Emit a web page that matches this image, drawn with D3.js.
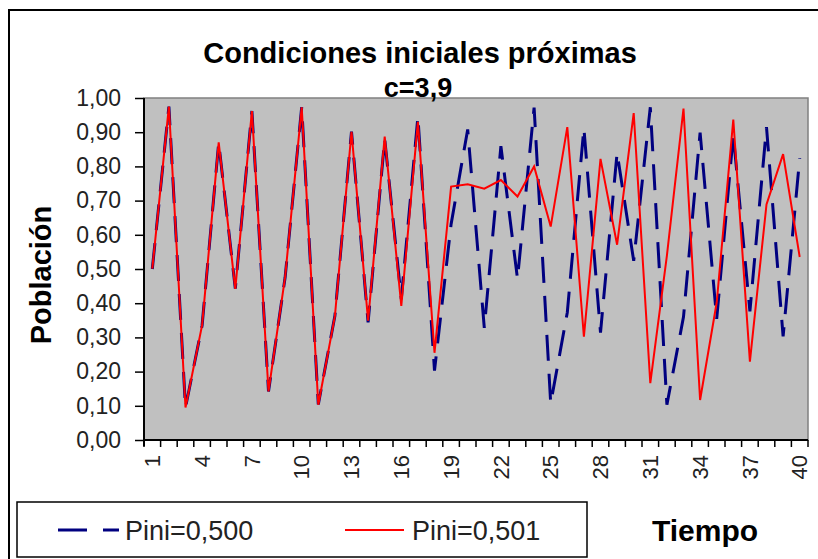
<!DOCTYPE html>
<html><head><meta charset="utf-8">
<script src="https://cdn.jsdelivr.net/npm/d3@7"></script>
<style>
html,body{margin:0;padding:0;background:#fff;}
svg{display:block;font-family:"Liberation Sans",Arial,sans-serif;}
</style></head><body>
<svg id="chart" width="818" height="559"></svg>
<script>
const categories = d3.range(1, 41);
const tickLabels = [1,4,7,10,13,16,19,22,25,28,31,34,37,40];
const yTicks = [0,0.1,0.2,0.3,0.4,0.5,0.6,0.7,0.8,0.9,1.0];
const seriesBlue = [0.500,0.975,0.095,0.335,0.869,0.443,0.962,0.142,0.475,0.973,
                    0.104,0.363,0.902,0.344,0.880,0.412,0.945,0.203,0.631,0.908,
                    0.328,0.859,0.471,0.972,0.107,0.373,0.912,0.314,0.840,0.524,
                    0.973,0.103,0.360,0.899,0.354,0.892,0.376,0.915,0.303,0.824];
const seriesRed  = [0.501,0.975,0.095,0.336,0.870,0.442,0.962,0.142,0.476,0.973,
                    0.103,0.362,0.901,0.349,0.887,0.392,0.930,0.255,0.741,0.748,
                    0.735,0.760,0.712,0.800,0.624,0.915,0.302,0.822,0.571,0.956,
                    0.166,0.539,0.969,0.117,0.402,0.937,0.229,0.689,0.836,0.535];

const svg = d3.select("#chart");
const L=144,R=808,T=98,B=440;
svg.append("rect").attr("x",9).attr("y",10).attr("width",830).attr("height",580).attr("fill","#fff").attr("stroke","#000").attr("stroke-width",2);

const x = d3.scaleBand().domain(categories).range([L,R]);
const y = d3.scaleLinear().domain([0,1]).range([B,T]);
svg.append("rect").attr("x",L).attr("y",T).attr("width",R-L).attr("height",B-T).attr("fill","#c0c0c0").attr("stroke","#808080").attr("stroke-width",1.5);

const fmt = v => d3.format(".2f")(v).replace(".", ",");
const yAxis = svg.append("g").attr("transform",`translate(${L},0)`)
  .call(d3.axisLeft(y).tickValues(yTicks).tickFormat(fmt).tickSize(9).tickPadding(14));
yAxis.select(".domain").attr("stroke","#000").attr("stroke-width",2).attr("d",`M0,${T}V${B+6}`);
yAxis.selectAll(".tick line").attr("stroke","#000").attr("stroke-width",1.5);
yAxis.selectAll("text").attr("font-size",23).attr("fill","#222").attr("font-family","Liberation Sans, Arial, sans-serif");

// x axis
const xa = svg.append("g");
xa.append("line").attr("x1",L).attr("x2",R).attr("y1",B).attr("y2",B).attr("stroke","#000").attr("stroke-width",2);
const bounds = categories.map(c=>x(c)).concat([R]);
xa.selectAll("line.t").data(bounds).join("line").attr("class","t")
  .attr("x1",d=>d).attr("x2",d=>d).attr("y1",B).attr("y2",B+7).attr("stroke","#000").attr("stroke-width",1.5);
xa.selectAll("text").data(tickLabels).join("text")
  .attr("transform",d=>`translate(${x(d)+x.bandwidth()/2},455) rotate(-90)`)
  .attr("text-anchor","end").attr("dy","0.35em").attr("font-size",22).attr("fill","#222").text(d=>d);

const cx = c => x(c)+x.bandwidth()/2;
const line = d3.line().x((d,i)=>cx(categories[i])).y(d=>y(d));
svg.append("path").datum(seriesBlue).attr("d",line).attr("fill","none").attr("stroke","#000080").attr("stroke-width",3).attr("stroke-dasharray","26,13");
svg.append("path").datum(seriesRed).attr("d",line).attr("fill","none").attr("stroke","#ff0000").attr("stroke-width",2);

// titles
svg.append("text").attr("x",420).attr("y",63).attr("text-anchor","middle").attr("font-weight","bold").attr("font-size",29).attr("fill","#000").text("Condiciones iniciales próximas");
svg.append("text").attr("x",418).attr("y",97).attr("text-anchor","middle").attr("font-weight","bold").attr("font-size",27).attr("fill","#000").text("c=3,9");
svg.append("text").attr("transform","translate(51,275) rotate(-90)").attr("text-anchor","middle").attr("font-weight","bold").attr("font-size",29).attr("fill","#000").text("Población");
svg.append("text").attr("x",705).attr("y",541).attr("text-anchor","middle").attr("font-weight","bold").attr("font-size",30).attr("fill","#000").text("Tiempo");

// legend
const lg = svg.append("g");
lg.append("rect").attr("x",17).attr("y",502).attr("width",570).attr("height",55).attr("fill","#fff").attr("stroke","#000").attr("stroke-width",1.5);
lg.append("line").attr("x1",58).attr("x2",119).attr("y1",530).attr("y2",530).attr("stroke","#000080").attr("stroke-width",3).attr("stroke-dasharray","29,16");
lg.append("text").attr("x",125).attr("y",540).attr("font-size",27).attr("fill","#222").text("Pini=0,500");
lg.append("line").attr("x1",345).attr("x2",404).attr("y1",530).attr("y2",530).attr("stroke","#ff0000").attr("stroke-width",2);
lg.append("text").attr("x",412).attr("y",540).attr("font-size",27).attr("fill","#222").text("Pini=0,501");
</script></body></html>
